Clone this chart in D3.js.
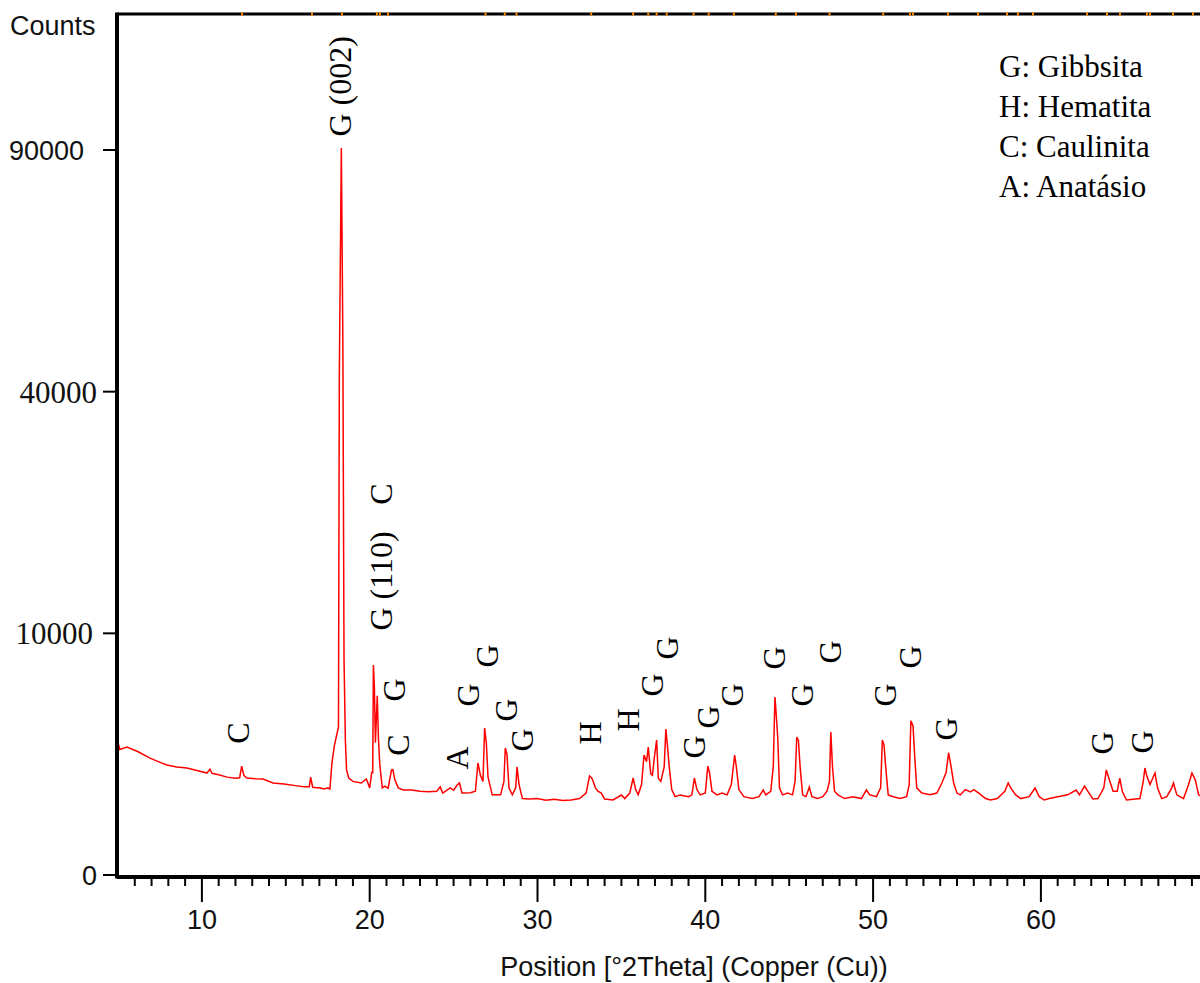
<!DOCTYPE html>
<html lang="en">
<head>
<meta charset="UTF-8">
<title>XRD - Position [°2Theta]</title>
<style>
  body { margin: 0; padding: 0; background: #fff; }
  #chart svg { display: block; }
  .tick-label { font-family: "Liberation Sans", Arial, sans-serif; font-size: 27px; fill: #111; }
  .peak-label { font-family: "Liberation Serif", "Times New Roman", serif; font-size: 32px; fill: #000; }
  .legend { font-family: "Liberation Serif", "Times New Roman", serif; font-size: 31px; fill: #000; }
</style>
</head>
<body>
<div id="chart"></div>
<script src="https://d3js.org/d3.v7.min.js"></script>
<script>
// measured scan: [2theta, counts]
const scan = [
  [5.00, 3030], [5.10, 2700], [5.54, 2800], [6.20, 2600], [6.91, 2340], [7.40, 2200], [7.92, 2070],
  [8.50, 2000], [9.11, 1960], [9.70, 1870], [10.30, 1780], [10.48, 1920], [10.60, 1770], [11.00, 1720],
  [11.50, 1640], [12.00, 1600], [12.25, 1620], [12.37, 2030], [12.50, 1700], [12.67, 1610], [13.20, 1590],
  [13.64, 1580], [14.24, 1450], [14.90, 1420], [15.67, 1360], [16.10, 1330], [16.40, 1330], [16.48, 1640],
  [16.60, 1320], [17.04, 1296], [17.30, 1270], [17.50, 1300], [17.63, 1266], [17.75, 2150], [17.90, 2890],
  [18.14, 3750], [18.19, 42800], [18.31, 90500], [18.40, 49000], [18.47, 8000], [18.55, 3100], [18.62, 1890],
  [18.75, 1610], [19.00, 1500], [19.50, 1450], [19.80, 1580], [20.00, 1300], [20.12, 1800], [20.18, 1800],
  [20.22, 7550], [20.28, 6000], [20.34, 3000], [20.45, 5500], [20.52, 3200], [20.60, 2100], [20.75, 1300],
  [20.90, 1350], [21.10, 1290], [21.30, 1890], [21.38, 1900], [21.50, 1550], [21.70, 1300], [22.00, 1240],
  [22.50, 1237], [23.00, 1200], [23.50, 1190], [24.00, 1200], [24.20, 1330], [24.35, 1150], [24.80, 1300],
  [25.00, 1230], [25.20, 1380], [25.35, 1450], [25.50, 1150], [26.00, 1160], [26.30, 1200], [26.45, 2150],
  [26.60, 1700], [26.75, 1500], [26.85, 3700], [26.95, 3000], [27.05, 1650], [27.30, 1100], [27.80, 1100],
  [28.00, 1500], [28.08, 2760], [28.18, 2500], [28.30, 1300], [28.50, 1100], [28.70, 1300], [28.78, 2000],
  [28.90, 1400], [29.10, 1000], [29.50, 990], [30.00, 1000], [30.50, 960], [31.00, 980], [31.50, 950],
  [32.00, 963], [32.50, 1000], [32.90, 1150], [33.10, 1680], [33.25, 1600], [33.45, 1300], [33.60, 1200],
  [33.80, 1150], [34.00, 990], [34.50, 963], [35.00, 1096], [35.20, 1000], [35.50, 1150], [35.70, 1610],
  [35.85, 1250], [36.00, 1100], [36.20, 1400], [36.35, 2465], [36.50, 2200], [36.60, 2800], [36.75, 1750],
  [36.85, 1700], [36.95, 2300], [37.10, 3120], [37.20, 1600], [37.35, 1500], [37.55, 2000], [37.65, 3650],
  [37.75, 2800], [37.85, 2000], [38.00, 1250], [38.20, 1050], [38.50, 1096], [39.00, 1050], [39.20, 1100],
  [39.35, 1610], [39.50, 1250], [39.70, 1100], [40.00, 1150], [40.15, 2030], [40.25, 1800], [40.40, 1200],
  [40.70, 1100], [41.00, 1150], [41.30, 1100], [41.55, 1400], [41.75, 2465], [41.85, 2000], [42.00, 1250],
  [42.30, 1050], [42.80, 1000], [43.20, 1050], [43.45, 1237], [43.60, 1100], [43.90, 1200], [44.05, 2000],
  [44.15, 5420], [44.22, 4500], [44.32, 3200], [44.42, 1300], [44.60, 1100], [44.90, 1150], [45.20, 1100],
  [45.35, 1500], [45.45, 3260], [45.55, 3100], [45.65, 2000], [45.80, 1100], [46.00, 1050], [46.20, 1326],
  [46.35, 1050], [46.70, 1000], [47.00, 1050], [47.25, 1200], [47.40, 1500], [47.48, 3500], [47.58, 2000],
  [47.70, 1200], [47.90, 1100], [48.30, 1000], [48.80, 1050], [49.30, 1000], [49.60, 1237], [49.80, 1100],
  [50.20, 1050], [50.45, 1300], [50.55, 3120], [50.65, 2900], [50.75, 2000], [50.90, 1100], [51.20, 1050],
  [51.60, 1000], [52.00, 1050], [52.15, 1400], [52.25, 4070], [52.38, 3800], [52.48, 2400], [52.60, 1300],
  [52.90, 1150], [53.40, 1100], [53.80, 1150], [54.10, 1450], [54.35, 1800], [54.50, 2560], [54.65, 2000],
  [54.80, 1450], [55.00, 1150], [55.20, 1100], [55.50, 1250], [55.80, 1180], [56.00, 1250], [56.30, 1150],
  [56.70, 1000], [57.00, 963], [57.40, 1000], [57.85, 1200], [58.05, 1450], [58.20, 1300], [58.50, 1100],
  [58.80, 1000], [59.30, 1050], [59.65, 1296], [59.90, 1050], [60.20, 963], [60.50, 1000], [61.00, 1050],
  [61.60, 1100], [62.10, 1237], [62.30, 1100], [62.60, 1356], [62.80, 1200], [63.10, 990], [63.40, 1000],
  [63.75, 1300], [63.90, 1890], [64.05, 1600], [64.30, 1200], [64.55, 1200], [64.70, 1610], [64.85, 1200],
  [65.10, 963], [65.50, 980], [65.90, 1000], [66.10, 1500], [66.20, 1960], [66.30, 1700], [66.50, 1400],
  [66.80, 1780], [66.95, 1300], [67.20, 1000], [67.50, 1050], [67.80, 1300], [67.90, 1450], [68.10, 1100],
  [68.50, 1000], [68.80, 1400], [69.00, 1780], [69.20, 1550], [69.40, 1100], [69.60, 1050], [70.00, 1050]
];

// reference peak markers on the top frame (2theta)
const refPeaks = [12.39, 16.56, 18.35, 20.43, 20.61, 21.09, 26.9, 28.05, 28.75, 33.2, 35.7, 36.6, 37.1,
  37.7, 39.3, 40.2, 41.7, 44.2, 45.4, 47.4, 50.6, 52.20, 52.38, 54.46, 56.25, 57.98, 58.63, 59.53,
  62.75, 63.94, 64.71, 66.32, 66.50, 67.87, 69.06];

// phase labels: text, 2theta, counts where the label is centred
const peakLabels = [
  { text: "C", pos: 12.15, at: 3452 },
  { text: "G (002)", pos: 18.23, at: 106500 },
  { text: "G (110)", pos: 20.67, at: 14800 },
  { text: "C", pos: 20.67, at: 24850 },
  { text: "G", pos: 21.45, at: 5860 },
  { text: "C", pos: 21.69, at: 2893 },
  { text: "A", pos: 25.20, at: 2344 },
  { text: "G", pos: 25.86, at: 5547 },
  { text: "G", pos: 26.99, at: 8211 },
  { text: "G", pos: 28.12, at: 4661 },
  { text: "G", pos: 29.08, at: 3120 },
  { text: "H", pos: 33.13, at: 3452 },
  { text: "H", pos: 35.39, at: 4113 },
  { text: "G", pos: 36.82, at: 6180 },
  { text: "G", pos: 37.72, at: 8822 },
  { text: "G", pos: 39.33, at: 2805 },
  { text: "G", pos: 40.16, at: 4274 },
  { text: "G", pos: 41.59, at: 5547 },
  { text: "G", pos: 44.15, at: 8062 },
  { text: "G", pos: 45.76, at: 5547 },
  { text: "G", pos: 47.43, at: 8514 },
  { text: "G", pos: 50.71, at: 5547 },
  { text: "G", pos: 52.20, at: 8136 },
  { text: "G", pos: 54.40, at: 3649 },
  { text: "G", pos: 63.64, at: 2983 },
  { text: "G", pos: 66.08, at: 3028 }
];

const legendItems = ["G: Gibbsita", "H: Hematita", "C: Caulinita", "A: Anatásio"];
const yTicks = [0, 10000, 40000, 90000];
const xMajor = [10, 20, 30, 40, 50, 60];
const xMinor = d3.range(6, 70);

const W = 1200, H = 983;
const axisLeft = 117, axisBottom = 877, frameTop = 14;

const x = d3.scaleLinear().domain([5, 70]).range([118, 1208.7]);
const y = d3.scaleSqrt().domain([0, 90000]).range([875, 150]);

const svg = d3.select("#chart").append("svg")
  .attr("width", W).attr("height", H);

// trace
const line = d3.line().x(d => x(d[0])).y(d => y(d[1]));
svg.append("path")
  .datum(scan)
  .attr("d", line)
  .attr("fill", "none")
  .attr("stroke", "#ff0000")
  .attr("stroke-width", 1.5)
  .attr("stroke-linejoin", "miter");

// frame
svg.append("line").attr("x1", axisLeft).attr("x2", W).attr("y1", frameTop).attr("y2", frameTop)
  .attr("stroke", "#000").attr("stroke-width", 3);
svg.append("line").attr("x1", axisLeft).attr("x2", axisLeft).attr("y1", frameTop - 1.5).attr("y2", axisBottom + 1.5)
  .attr("stroke", "#000").attr("stroke-width", 4);
svg.append("line").attr("x1", axisLeft).attr("x2", W).attr("y1", axisBottom).attr("y2", axisBottom)
  .attr("stroke", "#000").attr("stroke-width", 4);

// reference markers on the top line
svg.selectAll(".ref").data(refPeaks).enter().append("line")
  .attr("class", "ref")
  .attr("x1", d => x(d)).attr("x2", d => x(d))
  .attr("y1", frameTop - 1.5).attr("y2", frameTop + 1.5)
  .attr("stroke", "#ff8a00").attr("stroke-width", 2);

// x ticks
svg.selectAll(".xminor").data(xMinor.filter(v => v % 10 !== 0)).enter().append("line")
  .attr("x1", d => x(d)).attr("x2", d => x(d))
  .attr("y1", axisBottom + 2).attr("y2", axisBottom + 9)
  .attr("stroke", "#000").attr("stroke-width", 2);
svg.selectAll(".xmajor").data(xMajor).enter().append("line")
  .attr("x1", d => x(d)).attr("x2", d => x(d))
  .attr("y1", axisBottom + 2).attr("y2", axisBottom + 25)
  .attr("stroke", "#000").attr("stroke-width", 2);
svg.selectAll(".xlab").data(xMajor).enter().append("text")
  .attr("class", "tick-label")
  .attr("x", d => x(d)).attr("y", 929)
  .attr("text-anchor", "middle")
  .text(d => d);

svg.append("text")
  .attr("class", "tick-label")
  .attr("x", 694).attr("y", 976)
  .attr("text-anchor", "middle")
  .text("Position [°2Theta] (Copper (Cu))");

// y ticks
svg.selectAll(".ytick").data(yTicks).enter().append("line")
  .attr("x1", axisLeft - 14).attr("x2", axisLeft - 1)
  .attr("y1", d => y(d)).attr("y2", d => y(d))
  .attr("stroke", "#000").attr("stroke-width", 2);
svg.selectAll(".ylab").data(yTicks).enter().append("text")
  .attr("class", "tick-label")
  .attr("x", d => d === 90000 ? 84 : (d === 10000 ? 93 : 97))
  .attr("y", d => y(d))
  .attr("dy", "0.36em")
  .attr("text-anchor", "end")
  .style("font-family", d => (d === 10000 || d === 40000) ? '"Liberation Serif", serif' : null)
  .style("font-size", d => (d === 10000 || d === 40000) ? "31px" : null)
  .text(d => d);

svg.append("text")
  .attr("class", "tick-label")
  .attr("x", 10).attr("y", 35)
  .text("Counts");

// phase labels, rotated
svg.selectAll(".peak-label").data(peakLabels).enter().append("text")
  .attr("class", "peak-label")
  .attr("transform", d => `translate(${x(d.pos)},${y(d.at)}) rotate(-90)`)
  .attr("text-anchor", "middle")
  .attr("dy", "0.33em")
  .text(d => d.text);

// legend
svg.selectAll(".legend").data(legendItems).enter().append("text")
  .attr("class", "legend")
  .attr("x", 999)
  .attr("y", (d, i) => 77 + i * 40)
  .text(d => d);
</script>
</body>
</html>
